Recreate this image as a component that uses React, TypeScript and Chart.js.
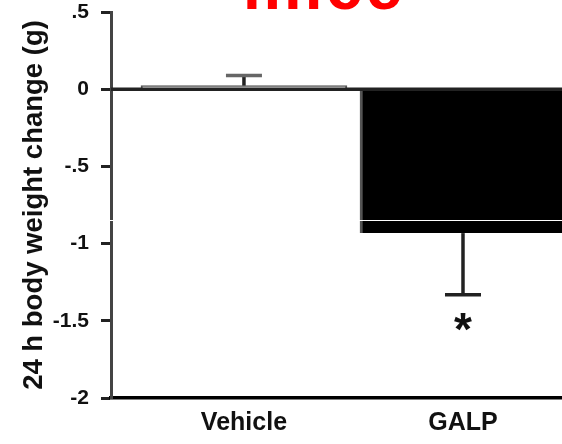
import React, { useEffect, useRef } from "react";
import { Chart, registerables } from "chart.js";

Chart.register(...registerables);

// ---- data ----
const categories = ["Vehicle", "GALP"];
const means = [0.023, -0.932];
const sems = [0.065, 0.4];
const significance = ["", "*"];
const yTickValues = [-2, -1.5, -1, -0.5, 0, 0.5];
const yTickLabels = ["-2", "-1.5", "-1", "-.5", "0", ".5"];
const yAxisTitle = "24 h body weight change (g)";
const chartTitle = "mice";

// ---- styles ----
const FONT = "'Liberation Sans', Arial, Helvetica, sans-serif";
const barFills = ["#ffffff", "#000000"];
const barBorders = ["#555555", "#555555"];
const X_MIN = -0.607;
const X_MAX = 1.452;
const STAR_LEVEL = -1.51;
const SCAN_ARTIFACT_LEVEL = -0.848;
const TITLE_CENTER_X = 324;
const TITLE_BASELINE_Y = 9;

const overlayPlugin = {
  id: "overlay",
  afterDatasetsDraw(chart: any) {
    const { ctx, chartArea, scales } = chart;
    const x = scales.x;
    const y = scales.y;
    ctx.save();
    // zero line
    const y0 = y.getPixelForValue(0);
    ctx.strokeStyle = "#222";
    ctx.lineWidth = 3.5;
    ctx.beginPath();
    ctx.moveTo(chartArea.left, y0);
    ctx.lineTo(chartArea.right, y0);
    ctx.stroke();
    // error bars
    means.forEach((m, i) => {
      const px = x.getPixelForValue(i);
      const dir = m >= 0 ? 1 : -1;
      const ys = y.getPixelForValue(m);
      const ye = y.getPixelForValue(m + dir * sems[i]);
      ctx.strokeStyle = "#222";
      ctx.lineWidth = 3.5;
      ctx.beginPath();
      ctx.moveTo(px, ys);
      ctx.lineTo(px, ye);
      ctx.stroke();
      ctx.strokeStyle = i === 0 ? "#666" : "#222";
      ctx.beginPath();
      ctx.moveTo(px - 18, ye);
      ctx.lineTo(px + 18, ye);
      ctx.stroke();
      // significance marker
      if (significance[i]) {
        ctx.font = `bold 46px ${FONT}`;
        ctx.fillStyle = "#111";
        ctx.textAlign = "center";
        ctx.textBaseline = "alphabetic";
        const mt = ctx.measureText(significance[i]);
        const yc = y.getPixelForValue(STAR_LEVEL);
        const base = yc + (mt.actualBoundingBoxAscent - mt.actualBoundingBoxDescent) / 2;
        ctx.fillText(significance[i], px, base);
      }
    });
    ctx.restore();
  },
  afterDraw(chart: any) {
    const { ctx, chartArea, scales } = chart;
    ctx.save();
    // thin white scan artifact crossing the plot
    const ya = Math.round(scales.y.getPixelForValue(SCAN_ARTIFACT_LEVEL)) + 0.5;
    ctx.strokeStyle = "#ffffff";
    ctx.lineWidth = 1;
    ctx.beginPath();
    ctx.moveTo(chartArea.left - 4, ya);
    ctx.lineTo(chartArea.right, ya);
    ctx.stroke();
    // red title (cropped by the top edge)
    ctx.font = `bold 66px ${FONT}`;
    ctx.fillStyle = "#ff0000";
    ctx.textAlign = "center";
    ctx.textBaseline = "alphabetic";
    try {
      (ctx as any).letterSpacing = "3px";
    } catch (e) {}
    ctx.fillText(chartTitle, TITLE_CENTER_X, TITLE_BASELINE_Y);
    ctx.restore();
  },
};

export default function App() {
  const ref = useRef<HTMLCanvasElement | null>(null);
  useEffect(() => {
    if (!ref.current) return;
    const chart = new Chart(ref.current, {
      type: "bar",
      data: {
        datasets: [
          {
            data: means.map((m, i) => ({ x: i, y: m })),
            backgroundColor: barFills,
            borderColor: barBorders,
            borderWidth: (c: any) =>
              c.dataIndex === 0
                ? { top: 2, left: 2, right: 2, bottom: 0 }
                : { top: 0, left: 3, right: 0, bottom: 0 },
            borderSkipped: false,
            barThickness: 206,
          } as any,
        ],
      },
      options: {
        animation: false,
        responsive: false,
        devicePixelRatio: 1,
        layout: { padding: { top: 12, right: 0, bottom: 0, left: 0 } },
        plugins: {
          legend: { display: false },
          tooltip: { enabled: false },
          title: { display: false },
        },
        scales: {
          x: {
            type: "linear",
            offset: false,
            min: X_MIN,
            max: X_MAX,
            afterBuildTicks: (s: any) => {
              s.ticks = categories.map((_, i) => ({ value: i }));
            },
            ticks: {
              callback: (v: any) => categories[v] ?? "",
              font: { family: FONT, size: 25, weight: "bold" },
              color: "#111",
              padding: 10,
              autoSkip: false,
              maxRotation: 0,
            },
            grid: { display: false, drawTicks: false, offset: false },
            border: { color: "#000", width: 3.5 },
            afterFit: (s: any) => {
              s.height = 46;
              s.paddingLeft = 0;
              s.paddingRight = 0;
            },
          },
          y: {
            min: -2,
            max: 0.5,
            afterBuildTicks: (s: any) => {
              s.ticks = yTickValues.map((v) => ({ value: v }));
            },
            ticks: {
              callback: (v: any) => yTickLabels[yTickValues.indexOf(v)] ?? "",
              font: { family: FONT, size: 21, weight: "bold" },
              color: "#111",
              padding: 12,
            },
            grid: {
              drawOnChartArea: false,
              tickLength: 10,
              tickColor: "#222",
              tickWidth: 3,
            },
            border: { color: "#444", width: 3 },
            title: {
              display: true,
              text: yAxisTitle,
              font: { family: FONT, size: 27.5, weight: "bold" },
              color: "#111",
              padding: { top: 18, bottom: 0 },
            },
            afterFit: (s: any) => {
              s.width = 111;
              s.paddingTop = 0;
              s.paddingBottom = 0;
            },
          },
        },
      } as any,
      plugins: [overlayPlugin],
    });
    return () => chart.destroy();
  }, []);
  return (
    <div style={{ position: "absolute", left: 0, top: 0, width: 562, height: 444, overflow: "hidden", background: "#fff" }}>
      <canvas ref={ref} width={562} height={444} style={{ display: "block" }} />
    </div>
  );
}
